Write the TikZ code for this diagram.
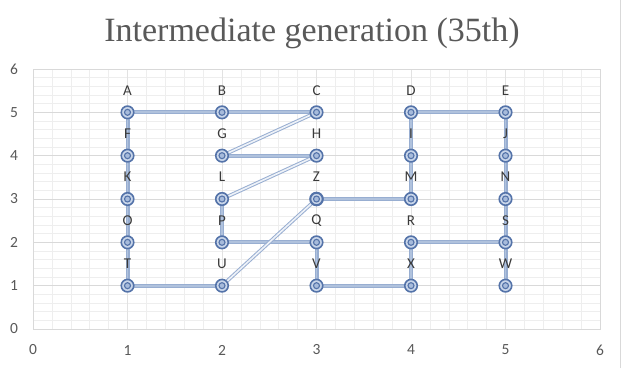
\documentclass[tikz,border=0pt]{standalone}
\usepackage{fontspec}
\setmainfont{Carlito}
\newfontfamily\titlefont{Liberation Serif}
\pgfdeclarelayer{gridlayer}
\pgfdeclarelayer{edgelayer}
\pgfsetlayers{gridlayer,edgelayer,main}
\definecolor{titlegray}{HTML}{595959}
\definecolor{labgray}{HTML}{3A3A3A}
\definecolor{minorgrid}{HTML}{EEEEEE}
\definecolor{majorgrid}{HTML}{D9D9D9}
\definecolor{majorvgrid}{HTML}{E2E2E2}
\definecolor{markblue}{HTML}{5473A9}
\definecolor{markfill}{HTML}{C9D6EA}
\definecolor{innerfill}{HTML}{A7BBDB}
\definecolor{edgeblue}{HTML}{98AED1}
\definecolor{edgecore}{HTML}{B0C2DD}
\definecolor{diagcore}{HTML}{EEF2F8}
\tikzset{
  charttitle/.style={font=\titlefont\fontsize{34}{38}\selectfont, text=titlegray, inner sep=0},
  ticklab/.style={font=\fontsize{15.5}{17}\selectfont, text=titlegray, inner sep=0},
  ptlab/.style={font=\fontsize{15}{17}\selectfont, text=labgray, inner sep=0},
  pt/.style={circle, draw=markblue, line width=1.6pt, fill=markfill, minimum size=12.5pt, inner sep=0,
    path picture={\draw[markblue, line width=1.1pt, fill=innerfill] (path picture bounding box.center) circle (3pt);}},
  ptbold/.style={pt, line width=2.1pt},
  hvedge/.style={draw=edgeblue, line width=1.1pt, double=edgecore, double distance=1.8pt},
  diagedge/.style={draw=edgeblue, line width=1pt, double=diagcore, double distance=1.6pt},
  minorline/.style={draw=minorgrid, line width=0.6pt},
  majorline/.style={draw=majorgrid, line width=0.9pt},
  majorvline/.style={draw=majorvgrid, line width=0.8pt},
  frameline/.style={draw=majorgrid, line width=0.9pt}
}
\begin{document}
\begin{tikzpicture}[x=1pt,y=1pt]
\useasboundingbox (0,0) rectangle (624,368);
\begin{pgfonlayer}{gridlayer}
  \fill[white] (0,0) rectangle (624,368);
  \draw[frameline] (620.5,0) -- (620.5,368);
\end{pgfonlayer}
\node[charttitle] (title) at (312,335) {Intermediate generation (35th)};
\begin{scope}[shift={(33,39)},x=94.5pt,y=43.333pt]
  % grid
  \begin{pgfonlayer}{gridlayer}
  \foreach \i in {1,...,29} {\draw[minorline] (\i/5,0) -- (\i/5,6);}
  \foreach \i in {1,...,29} {\draw[minorline] (0,\i/5) -- (6,\i/5);}
  \foreach \i in {1,...,5} {\draw[majorvline] (\i,0) -- (\i,6);}
  \foreach \i in {1,...,6} {\draw[majorline] (0,\i) -- (6,\i);}
  \draw[frameline] (0,0) rectangle (6,6);
  \end{pgfonlayer}
  % tick labels
  \foreach \i in {0,...,6} {\node[ticklab] (xt\i) at (\i,-0.485) {\i};}
  \foreach \i in {0,...,6} {\node[ticklab] (yt\i) at (-0.2,\i) {\i};}
  % points
  \node[pt] (A) at (1,5) {}; \node[pt] (B) at (2,5) {}; \node[pt] (C) at (3,5) {}; \node[pt] (D) at (4,5) {}; \node[pt] (E) at (5,5) {};
  \node[pt] (F) at (1,4) {}; \node[pt] (G) at (2,4) {}; \node[pt] (H) at (3,4) {}; \node[pt] (I) at (4,4) {}; \node[pt] (J) at (5,4) {};
  \node[pt] (K) at (1,3) {}; \node[pt] (L) at (2,3) {}; \node[ptbold] (Z) at (3,3) {}; \node[pt] (M) at (4,3) {}; \node[pt] (N) at (5,3) {};
  \node[pt] (O) at (1,2) {}; \node[pt] (P) at (2,2) {}; \node[pt] (Q) at (3,2) {}; \node[pt] (R) at (4,2) {}; \node[pt] (S) at (5,2) {};
  \node[pt] (T) at (1,1) {}; \node[pt] (U) at (2,1) {}; \node[pt] (V) at (3,1) {}; \node[pt] (X) at (4,1) {}; \node[pt] (W) at (5,1) {};
  % labels
  \foreach \n in {A,B,C,D,E,F,G,H,I,J,K,L,Z,M,N,O,P,Q,R,S,T,U,V,X,W} {
    \node[ptlab] (l\n) at ([yshift=22pt]\n.center) {\n};
  }
  % connectors
  \begin{pgfonlayer}{edgelayer}
    \draw[hvedge] (A.center) -- (B.center) -- (C.center);
    \draw[hvedge] (A.center) -- (F.center) -- (K.center) -- (O.center) -- (T.center) -- (U.center);
    \draw[hvedge] (D.center) -- (E.center) -- (J.center) -- (N.center) -- (S.center) -- (W.center);
    \draw[hvedge] (D.center) -- (I.center) -- (M.center) -- (Z.center);
    \draw[hvedge] (G.center) -- (H.center);
    \draw[hvedge] (L.center) -- (P.center) -- (Q.center) -- (V.center) -- (X.center) -- (R.center) -- (S.center);
    \draw[diagedge] (G.center) -- (C.center);
    \draw[diagedge] (L.center) -- (H.center);
    \draw[diagedge] (U.center) -- (Z.center);
  \end{pgfonlayer}
\end{scope}
\end{tikzpicture}
\end{document}
